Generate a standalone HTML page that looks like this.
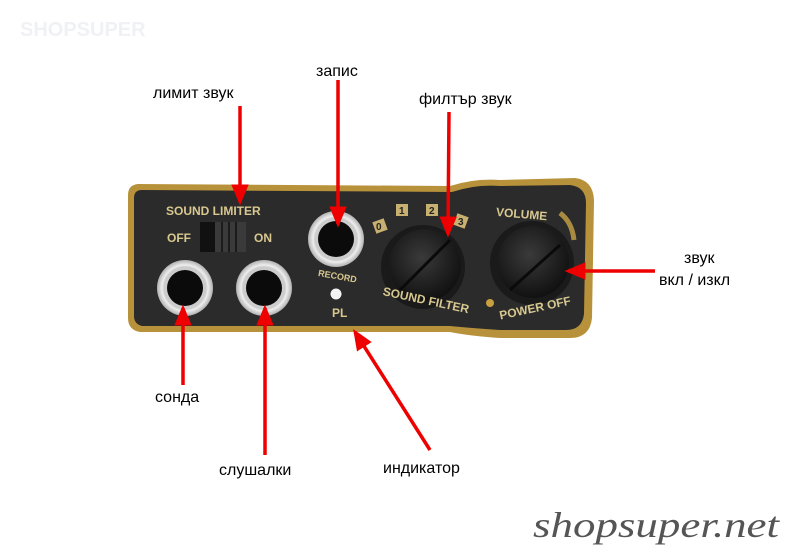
<!DOCTYPE html>
<html><head><meta charset="utf-8"><style>
html,body{margin:0;padding:0;background:#fff;}
svg{display:block;}
</style></head><body>
<svg width="790" height="551" viewBox="0 0 790 551" xmlns="http://www.w3.org/2000/svg" font-family="Liberation Sans, DejaVu Sans, sans-serif">
<defs>
<marker id="ah" markerWidth="6" markerHeight="6" refX="5" refY="3" orient="auto" markerUnits="strokeWidth">
<path d="M0,0.5 L6,3 L0,5.5 z" fill="#e00"/></marker>
<radialGradient id="nut" cx="50%" cy="50%" r="50%"><stop offset="65%" stop-color="#999"/><stop offset="82%" stop-color="#eee"/><stop offset="100%" stop-color="#b0b0b0"/></radialGradient>
<radialGradient id="knob" cx="45%" cy="40%" r="60%"><stop offset="0%" stop-color="#3a3a3a"/><stop offset="100%" stop-color="#111"/></radialGradient>
</defs>
<text x="20" y="36" font-size="20" font-weight="bold" fill="#f0f1f4">SHOPSUPER</text>
<path d="M128,195 Q128,185 138,184 L450,186 Q475,178 500,180 L575,178 Q593,180 594,200 L592,318 Q590,338 570,338 L500,338 Q470,336 450,332 L140,332 Q128,330 128,318 Z" fill="#b8923a"/>
<path d="M134,198 Q134,190 142,190 L452,192 Q476,184 500,186 L570,185 Q586,187 586,203 L584,314 Q582,330 566,330 L500,330 Q470,328 450,326 L142,326 Q134,324 134,316 Z" fill="#2b2b2b"/>
<text x="166" y="215" font-size="12" font-weight="bold" fill="#d8c890">SOUND LIMITER</text>
<text x="167" y="242" font-size="12" font-weight="bold" fill="#d8c890">OFF</text>
<text x="254" y="242" font-size="12" font-weight="bold" fill="#d8c890">ON</text>
<rect x="200" y="222" width="46" height="30" fill="#111"/>
<rect x="215" y="222" width="31" height="30" fill="#3a3a3a"/>
<g stroke="#111" stroke-width="1.5"><line x1="222" y1="222" x2="222" y2="252"/><line x1="229" y1="222" x2="229" y2="252"/><line x1="236" y1="222" x2="236" y2="252"/></g>
<g><circle cx="185" cy="288" r="28" fill="url(#nut)"/><circle cx="185" cy="288" r="21" fill="#ccc"/><circle cx="185" cy="288" r="18" fill="#0b0b0b"/></g>
<g><circle cx="264" cy="288" r="28" fill="url(#nut)"/><circle cx="264" cy="288" r="21" fill="#ccc"/><circle cx="264" cy="288" r="18" fill="#0b0b0b"/></g>
<g><circle cx="336" cy="239" r="28" fill="url(#nut)"/><circle cx="336" cy="239" r="21" fill="#ccc"/><circle cx="336" cy="239" r="18" fill="#0b0b0b"/></g>
<text x="318" y="279" font-size="9" font-weight="bold" fill="#d8c890" transform="rotate(10 336 276)">RECORD</text>
<circle cx="336" cy="294" r="5.5" fill="#f4f4f4"/>
<text x="332" y="317" font-size="12" font-weight="bold" fill="#d8c890">PL</text>
<g font-size="10" font-weight="bold" fill="#222">
<rect x="374" y="220" width="12" height="12" fill="#c8b070" transform="rotate(-20 380 226)"/><text x="376" y="230">0</text>
<rect x="396" y="204" width="12" height="12" fill="#c8b070"/><text x="399" y="214">1</text>
<rect x="426" y="204" width="12" height="12" fill="#c8b070"/><text x="429" y="214">2</text>
<rect x="455" y="215" width="12" height="12" fill="#c8b070" transform="rotate(20 461 221)"/><text x="458" y="225">3</text>
</g>
<circle cx="423" cy="267" r="42" fill="#1a1a1a"/>
<circle cx="425" cy="265" r="36" fill="url(#knob)"/>
<line x1="400" y1="290" x2="450" y2="240" stroke="#0a0a0a" stroke-width="3"/>
<text x="382" y="303" font-size="12" font-weight="bold" fill="#d8c890" transform="rotate(12 420 300)">SOUND FILTER</text>
<text x="496" y="218" font-size="12" font-weight="bold" fill="#d8c890" transform="rotate(5 520 214)">VOLUME</text>
<path d="M560,213 Q572,222 574,240" stroke="#a88a40" stroke-width="5" fill="none"/>
<circle cx="532" cy="263" r="42" fill="#1a1a1a"/>
<circle cx="533" cy="262" r="36" fill="url(#knob)"/>
<line x1="510" y1="290" x2="560" y2="245" stroke="#0a0a0a" stroke-width="3"/>
<circle cx="490" cy="303" r="4" fill="#c8a040"/>
<text x="498" y="313" font-size="12" font-weight="bold" fill="#d8c890" transform="rotate(-12 530 305)">POWER OFF</text>
<g stroke="#e00" stroke-width="3.5" fill="none">
<line x1="240" y1="106" x2="240" y2="202" marker-end="url(#ah)"/>
<line x1="338" y1="80" x2="338" y2="224" marker-end="url(#ah)"/>
<line x1="449" y1="112" x2="448" y2="234" marker-end="url(#ah)"/>
<line x1="655" y1="271" x2="568" y2="271" marker-end="url(#ah)"/>
<line x1="183" y1="385" x2="183" y2="308" marker-end="url(#ah)"/>
<line x1="265" y1="455" x2="265" y2="308" marker-end="url(#ah)"/>
<line x1="430" y1="450" x2="355" y2="332" marker-end="url(#ah)"/>
</g>
<g font-size="16" fill="#000">
<text x="153" y="98">лимит звук</text>
<text x="316" y="76">запис</text>
<text x="419" y="104">филтър звук</text>
<text x="684" y="263">звук</text>
<text x="659" y="285">вкл / изкл</text>
<text x="155" y="402">сонда</text>
<text x="219" y="475">слушалки</text>
<text x="383" y="473">индикатор</text>
</g>
<text x="533" y="537" font-size="36" font-style="italic" font-family="Liberation Serif, serif" fill="#555" textLength="246" lengthAdjust="spacingAndGlyphs">shopsuper.net</text>
</svg>
</body></html>
